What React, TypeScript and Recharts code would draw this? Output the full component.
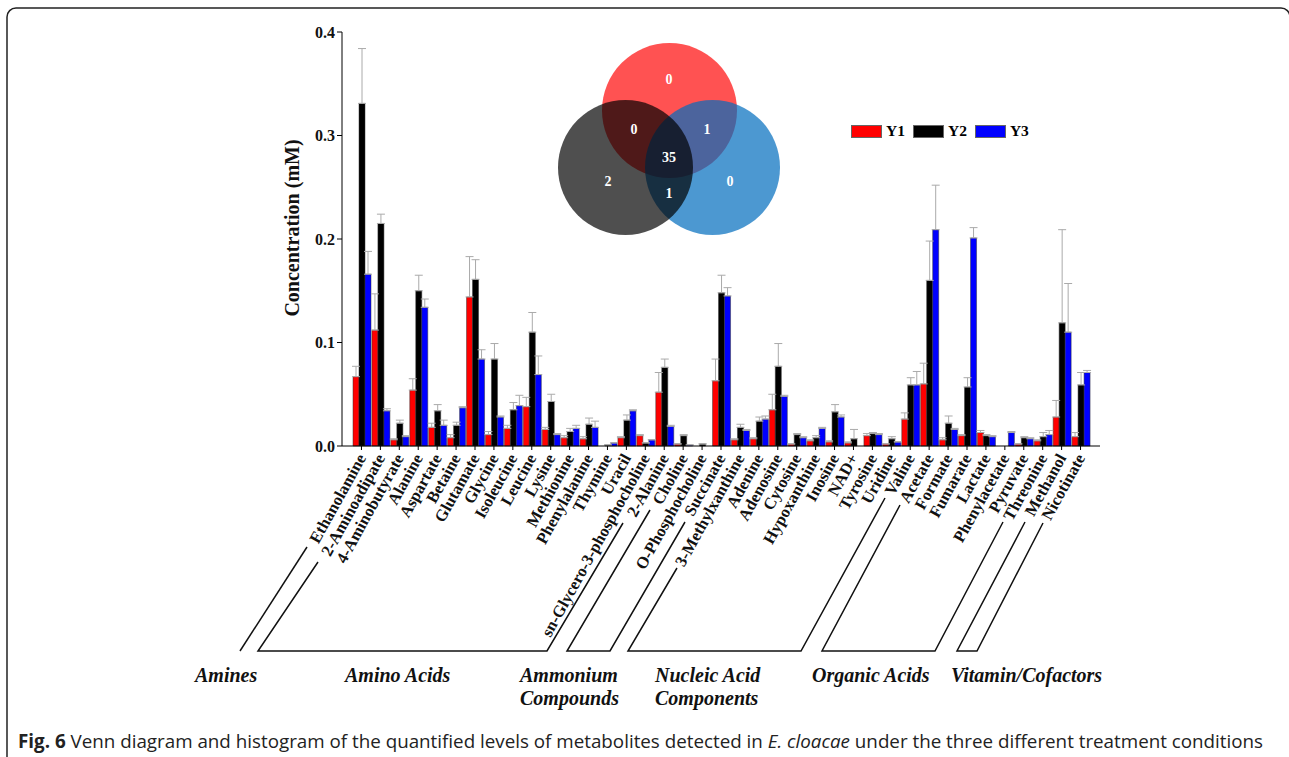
import React from 'react';
import { BarChart, Bar, XAxis, YAxis, ErrorBar, Legend } from 'recharts';

const metabolites = [
  'Ethanolamine', '2-Aminoadipate', '4-Aminobutyrate', 'Alanine', 'Aspartate', 'Betaine', 'Glutamate',
  'Glycine', 'Isoleucine', 'Leucine', 'Lysine', 'Methionine', 'Phenylalanine', 'Thymine', 'Uracil',
  'sn-Glycero-3-phosphocholine', '2-Alanine', 'Choline', 'O-Phosphocholine', 'Succinate',
  '3-Methylxanthine', 'Adenine', 'Adenosine', 'Cytosine', 'Hypoxanthine', 'Inosine', 'NAD+',
  'Tyrosine', 'Uridine', 'Valine', 'Acetate', 'Formate', 'Fumarate', 'Lactate', 'Phenylacetate',
  'Pyruvate', 'Threonine', 'Methanol', 'Nicotinate',
];

const y1 = [0.067, 0.112, 0.006, 0.054, 0.018, 0.008, 0.144, 0.011, 0.017, 0.038, 0.016, 0.008, 0.007, 0, 0.008,
  0.010, 0.052, 0.002, 0, 0.063, 0.006, 0.007, 0.035, 0.002, 0.005, 0.004, 0.003, 0.010, 0.002, 0.026,
  0.060, 0.006, 0.010, 0.013, 0, 0.002, 0.005, 0.028, 0.009];
const y2 = [0.331, 0.215, 0.022, 0.150, 0.034, 0.020, 0.161, 0.084, 0.035, 0.110, 0.043, 0.014, 0.021, 0.001, 0.025,
  0.003, 0.076, 0.010, 0.002, 0.148, 0.018, 0.024, 0.077, 0.011, 0.008, 0.033, 0.007, 0.012, 0.007, 0.059,
  0.160, 0.022, 0.057, 0.010, 0, 0.008, 0.009, 0.119, 0.059];
const y3 = [0.166, 0.034, 0.009, 0.134, 0.020, 0.037, 0.084, 0.028, 0.039, 0.069, 0.011, 0.017, 0.018, 0.003, 0.034,
  0.006, 0.019, 0.001, 0, 0.145, 0.015, 0.026, 0.048, 0.008, 0.017, 0.028, 0, 0.011, 0.004, 0.059,
  0.209, 0.016, 0.201, 0.009, 0.013, 0.007, 0.011, 0.110, 0.071];

const y1Err = [0.010, 0.035, 0.001, 0.011, 0.004, 0.003, 0.039, 0.003, 0.003, 0.009, 0.002, 0.002, 0.002, 0, 0.001,
  0.001, 0.019, 0, 0, 0.021, 0.001, 0.001, 0.015, 0, 0.001, 0.001, 0.001, 0.002, 0, 0.006,
  0.020, 0.002, 0.001, 0.002, 0, 0, 0.001, 0.016, 0.004];
const y2Err = [0.053, 0.009, 0.003, 0.015, 0.006, 0.003, 0.019, 0.015, 0.007, 0.019, 0.007, 0.003, 0.006, 0, 0.005,
  0, 0.008, 0.001, 0, 0.017, 0.003, 0.004, 0.022, 0.001, 0.002, 0.007, 0.009, 0.001, 0.002, 0.007,
  0.038, 0.007, 0.009, 0.001, 0, 0.001, 0.004, 0.090, 0.012];
const y3Err = [0.022, 0.002, 0.001, 0.008, 0.005, 0.001, 0.009, 0.001, 0.010, 0.018, 0.001, 0.003, 0.006, 0, 0.001,
  0, 0.001, 0, 0, 0.008, 0.001, 0.003, 0.001, 0.001, 0.001, 0.002, 0, 0.001, 0, 0.013,
  0.043, 0.001, 0.010, 0.001, 0.001, 0.001, 0.004, 0.047, 0.002];

const yTicks = [0, 0.1, 0.2, 0.3, 0.4];
const seriesNames = ['Y1', 'Y2', 'Y3'];
const seriesColors = ['#ff0000', '#000000', '#0000ff'];

// venn counts: [label, x, y]
const vennLabels: [string, number, number][] = [
  ['0', 669, 84], ['0', 634, 134], ['1', 707, 134], ['35', 669, 162],
  ['2', 608, 186], ['1', 669, 198], ['0', 730, 186],
];

const groupNames = [['Amines'], ['Amino Acids'], ['Ammonium', 'Compounds'], ['Nucleic Acid', 'Components'], ['Organic Acids'], ['Vitamin/Cofactors']];
const groupLabelX = [195, 345, 520, 655, 812, 951];
const brackets = [
  'M307,547 L240,651',
  'M318,562 L258,651 L547,651 L623,523',
  'M650,510 L567,651 L610,651 L685,522',
  'M677,568 L628,651 L801,651 L885,498',
  'M900,505 L822,651 L935,651 L1003,522',
  'M1025,522 L957,651 L977,651 L1043,523',
];

const data = metabolites.map((name, i) => ({
  name,
  Y1: y1[i], Y2: y2[i], Y3: y3[i],
  e1: [0, y1Err[i]], e2: [0, y2Err[i]], e3: [0, y3Err[i]],
}));

const serif = '"Liberation Serif", "Times New Roman", serif';

const XTick = (props: any) => {
  const { x, y, payload } = props;
  return (
    <g transform={`translate(${x},${y})`}>
      <text transform="rotate(-61)" textAnchor="end" dy="0.35em" fontFamily={serif} fontWeight="bold" fontSize={16.5} fill="#111">
        {payload.value}
      </text>
    </g>
  );
};

const YLabel = (props: any) => {
  const { viewBox } = props;
  const cx = viewBox.x + viewBox.width / 2 - 4;
  const cy = viewBox.y + viewBox.height / 2 - 11;
  return (
    <text x={cx} y={cy} transform={`rotate(-90, ${cx}, ${cy})`} textAnchor="middle" dominantBaseline="central"
      fontFamily={serif} fontWeight="bold" fontSize={20} fill="#111">
      Concentration (mM)
    </text>
  );
};

const LegendBox = (props: any) => (
  <div style={{ display: 'flex', alignItems: 'center', fontFamily: serif, fontWeight: 'bold', fontSize: 15.5 }}>
    {(props.payload || []).map((p: any, i: number) => (
      <div key={i} style={{ display: 'flex', alignItems: 'center', marginRight: 8 }}>
        <div style={{ width: 29, height: 11, background: p.color, border: '1px solid #666', marginRight: 4 }} />
        <span>{p.value}</span>
      </div>
    ))}
  </div>
);

export default function App() {
  return (
    <div style={{ position: 'absolute', left: 0, top: 0, width: 1289, height: 757, overflow: 'hidden', background: '#fff' }}>
      <BarChart width={1289} height={757} data={data} margin={{ top: 32, right: 189, left: 250, bottom: 0 }}
        barCategoryGap={1} barGap={0} style={{ position: 'absolute', left: 0, top: 0 }}>
        <XAxis dataKey="name" interval={0} height={311} tick={<XTick />} tickSize={4} tickMargin={5}
          padding={{ left: 10, right: 10 }} axisLine={{ stroke: '#000' }} tickLine={{ stroke: '#000' }} />
        <YAxis width={92} domain={[0, 0.4]} ticks={yTicks} tickFormatter={(v: number) => v.toFixed(1)}
          tickSize={5} axisLine={{ stroke: '#000' }} tickLine={{ stroke: '#000' }}
          tick={{ fontFamily: serif, fontWeight: 'bold', fontSize: 16, fill: '#111' }}
          label={<YLabel />} />
        <Legend content={<LegendBox />} wrapperStyle={{ position: 'absolute', left: 851, top: 122, width: 220, height: 0, overflow: 'visible' }} />
        {seriesNames.map((s, i) => (
          <Bar key={s} dataKey={s} fill={seriesColors[i]} stroke="#333" strokeWidth={0.5} isAnimationActive={false}>
            <ErrorBar dataKey={`e${i + 1}`} width={4} stroke="#aaaaaa" strokeWidth={1} />
          </Bar>
        ))}
      </BarChart>
      <svg width={1289} height={757} style={{ position: 'absolute', left: 0, top: 0, pointerEvents: 'none' }}>
        <rect x={7} y={8} width={1283} height={760} rx={9} fill="none" stroke="#222" strokeWidth={1.5} />
        <circle cx={669.5} cy={110.5} r={67.5} fill="#ff5252" />
        <circle cx={712.5} cy={167.5} r={67.5} fill="#006cbe" fillOpacity={0.7} />
        <circle cx={625.5} cy={167.5} r={67.5} fill="#000" fillOpacity={0.69} />
        {vennLabels.map(([t, x, y], i) => (
          <text key={i} x={x} y={y} textAnchor="middle" fontFamily={serif} fontWeight="bold" fontSize={14} fill="#fff">{t}</text>
        ))}
        {brackets.map((d, i) => (
          <path key={i} d={d} fill="none" stroke="#111" strokeWidth={1.5} />
        ))}
        {groupNames.map((lines, i) => lines.map((l, j) => (
          <text key={`${i}-${j}`} x={groupLabelX[i]} y={682 + j * 23} fontFamily={serif} fontWeight="bold" fontStyle="italic" fontSize={20} fill="#111">{l}</text>
        )))}
        <text x={18} y={748} fontFamily='"Open Sans", sans-serif' fontSize={18.8} fill="#222">
          <tspan fontWeight="bold">Fig. 6</tspan> Venn diagram and histogram of the quantified levels of metabolites detected in <tspan fontStyle="italic">E. cloacae</tspan> under the three different treatment conditions
        </text>
      </svg>
    </div>
  );
}
